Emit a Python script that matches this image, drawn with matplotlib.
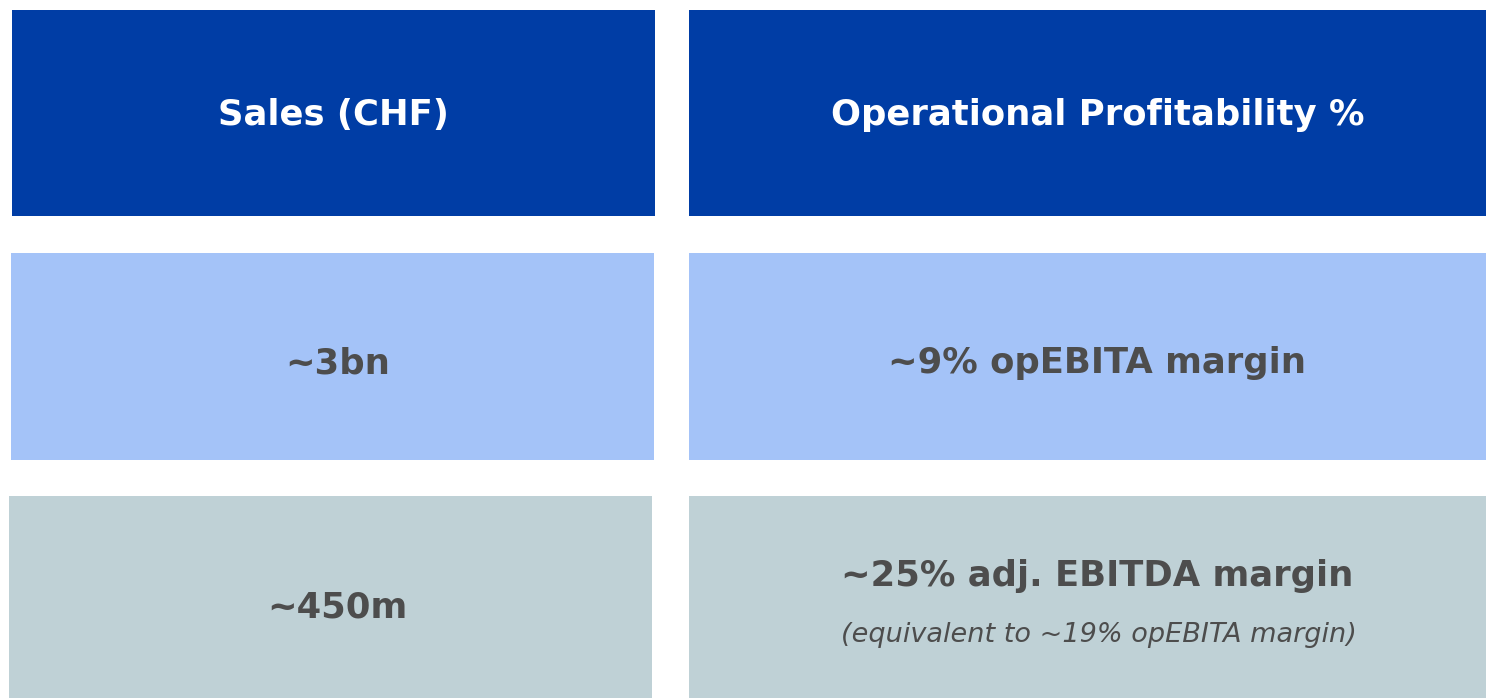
import matplotlib.pyplot as plt
from matplotlib.patches import Rectangle

plt.rcParams['font.family'] = ['DejaVu Sans']

headers = ['Sales (CHF)', 'Operational Profitability %']
row1 = ['~3bn', '~9% opEBITA margin']
row2 = ['~450m', '~25% adj. EBITDA margin']
row2_note = '(equivalent to ~19% opEBITA margin)'

dark_blue = '#003DA5'
light_blue = '#A4C3F8'
grey_blue = '#BFD1D6'
text_grey = '#4D4D4D'

fig = plt.figure(figsize=(14.86, 6.98), dpi=100)
ax = fig.add_axes([0, 0, 1, 1])
ax.set_xlim(0, 1486)
ax.set_ylim(698, 0)
ax.axis('off')

# box layout in pixels: (x0, x1) per column, (y0, y1) per row
cols = [[(12, 655), (689, 1486)],
        [(11, 654), (689, 1486)],
        [(9, 652), (689, 1486)]]
rows = [(10, 216), (253, 460), (496, 698)]
fills = [dark_blue, light_blue, grey_blue]

for r, ((y0, y1), fc) in enumerate(zip(rows, fills)):
    for x0, x1 in cols[r]:
        ax.add_patch(Rectangle((x0, y0), x1 - x0, y1 - y0, facecolor=fc, edgecolor='none'))

big = dict(ha='center', va='baseline', fontsize=25.5, fontweight='bold')

ax.text(333, 125, headers[0], color='white', **big)
ax.text(1098, 125, headers[1], color='white', **big)

ax.text(338, 373, row1[0], color=text_grey, **big)
ax.text(1097, 373, row1[1], color=text_grey, **big)

ax.text(337, 617, row2[0], color=text_grey, **big)
ax.text(1097, 586, row2[1], color=text_grey, **big)
ax.text(1099, 642, row2_note, ha='center', va='baseline', color=text_grey,
        fontsize=19.5, style='italic')

fig.savefig('out.png', dpi=100)
